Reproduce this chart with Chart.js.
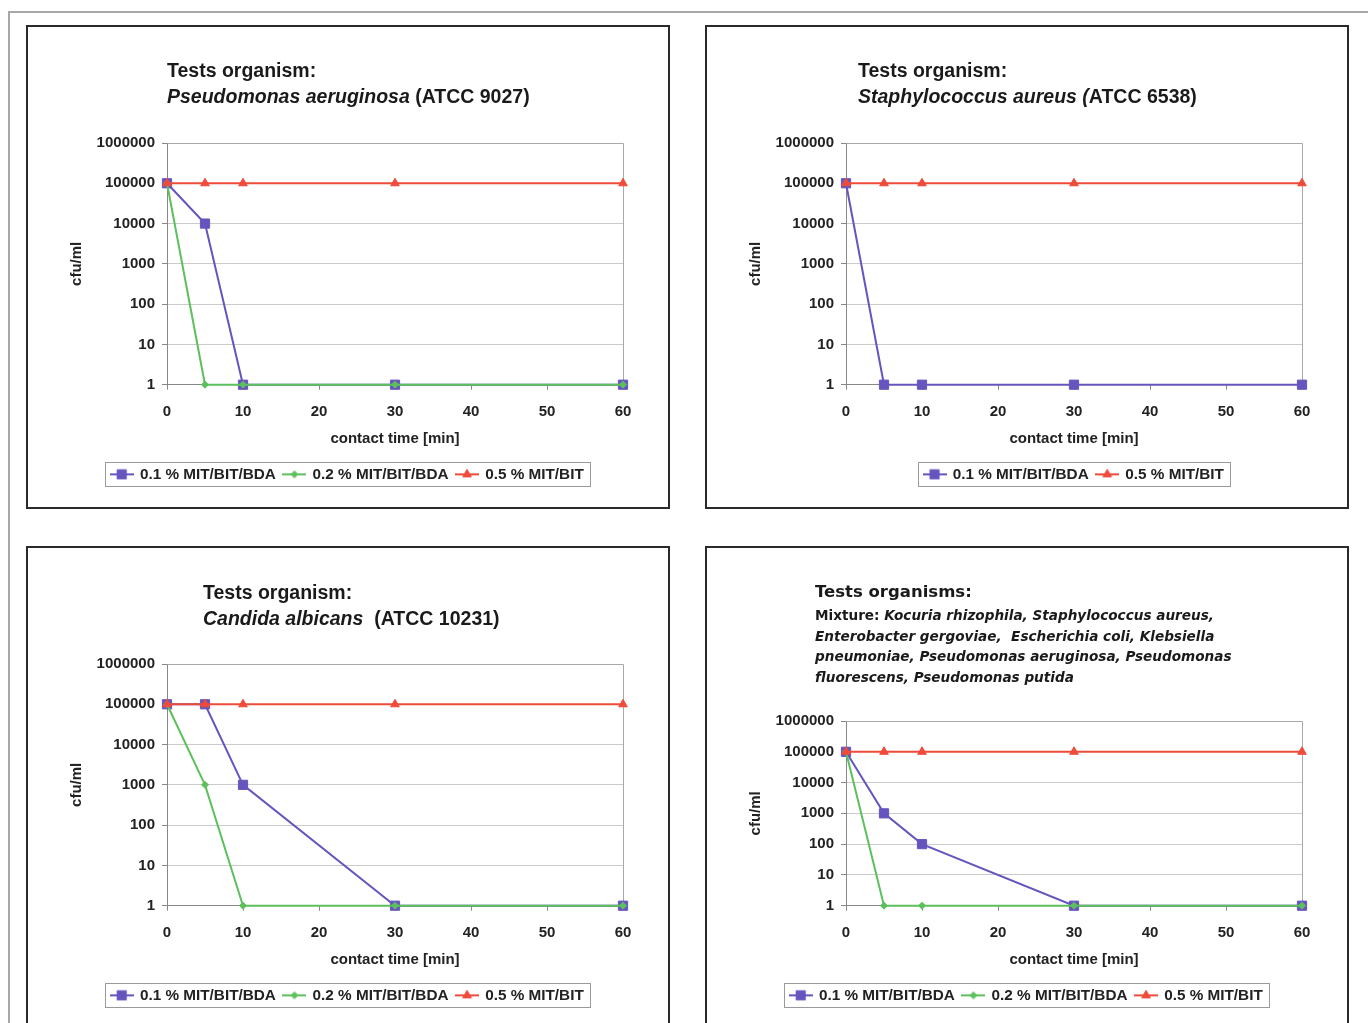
<!DOCTYPE html>
<html>
<head>
<meta charset="utf-8">
<script src="https://cdn.jsdelivr.net/npm/chart.js@4.4.0/dist/chart.umd.min.js"></script>
<style>
html, body { margin: 0; padding: 0; background: #fff; }
body { width: 1368px; height: 1023px; overflow: hidden; position: relative; font-family: "Liberation Sans", Arial, sans-serif; }
#frame { position: absolute; left: 8px; top: 11px; width: 1400px; height: 1100px; border-left: 2px solid #a8a8a8; border-top: 2px solid #a8a8a8; }
.panel { position: absolute; width: 644px; height: 484px; box-sizing: border-box; border: 2px solid #2a2a2a; background: #fff; }
.panel canvas { position: absolute; left: 0; top: 0; }
.ttl { position: absolute; font-size: 19.5px; font-weight: bold; line-height: 26px; color: #1a1a1a; white-space: nowrap; }
.mix { position: absolute; font-family: "DejaVu Sans", sans-serif; font-weight: bold; color: #1a1a1a; white-space: nowrap; }
</style>
</head>
<body>
<div id="frame"></div>

<div class="panel" style="left:26px;top:25px"><canvas id="c1" width="640" height="480"></canvas></div>
<div class="panel" style="left:705px;top:25px"><canvas id="c2" width="640" height="480"></canvas></div>
<div class="panel" style="left:26px;top:546px"><canvas id="c3" width="640" height="480"></canvas></div>
<div class="panel" style="left:705px;top:546px"><canvas id="c4" width="640" height="480"></canvas></div>

<div class="ttl" style="left:167px;top:57px">Tests organism:<br><i>Pseudomonas aeruginosa</i> (ATCC 9027)</div>
<div class="ttl" style="left:858px;top:57px">Tests organism:<br><i>Staphylococcus aureus (</i>ATCC 6538)</div>
<div class="ttl" style="left:203px;top:579px">Tests organism:<br><i>Candida albicans</i>&nbsp; (ATCC 10231)</div>

<div class="mix" style="left:815px;top:580px;font-size:16.5px;line-height:24px">Tests organisms:</div>
<div class="mix" style="left:815px;top:605px;font-size:13.6px;line-height:20.7px">Mixture: <i>Kocuria rhizophila, Staphylococcus aureus,</i><br><i>Enterobacter gergoviae,&nbsp; Escherichia coli, Klebsiella</i><br><i>pneumoniae, Pseudomonas aeruginosa, Pseudomonas</i><br><i>fluorescens, Pseudomonas putida</i></div>

<script>
// contact times [min] and the measured cfu/ml
const times = [0, 5, 10, 30, 60];
const xTicks = [0, 10, 20, 30, 40, 50, 60];
const xTickLabels = ['0', '10', '20', '30', '40', '50', '60'];
const yTicks = [1, 10, 100, 1000, 10000, 100000, 1000000];
const yTickLabels = ['1', '10', '100', '1000', '10000', '100000', '1000000'];
const seriesNames = ['0.1 % MIT/BIT/BDA', '0.2 % MIT/BIT/BDA', '0.5 % MIT/BIT'];

// Pseudomonas aeruginosa
const pseudoBlue = [100000, 10000, 1, 1, 1];
const pseudoGreen = [100000, 1, 1, 1, 1];
const pseudoRed = [100000, 100000, 100000, 100000, 100000];
// Staphylococcus aureus
const staphBlue = [100000, 1, 1, 1, 1];
const staphRed = [100000, 100000, 100000, 100000, 100000];
// Candida albicans
const candidaBlue = [100000, 100000, 1000, 1, 1];
const candidaGreen = [100000, 1000, 1, 1, 1];
const candidaRed = [100000, 100000, 100000, 100000, 100000];
// mixture
const mixBlue = [100000, 1000, 100, 1, 1];
const mixGreen = [100000, 1, 1, 1, 1];
const mixRed = [100000, 100000, 100000, 100000, 100000];

const BLUE = '#6655bf';
const GREEN = '#5cc05c';
const RED = '#ee4b3b';

Chart.defaults.font.family = '"Liberation Sans", Arial, sans-serif';
Chart.defaults.font.size = 15;
Chart.defaults.font.weight = 'bold';
Chart.defaults.color = '#222';

function legendIcon(color, style, radius) {
  var c = document.createElement('canvas');
  c.width = 24;
  c.height = 12;
  var g = c.getContext('2d');
  g.strokeStyle = color;
  g.lineWidth = 2;
  g.beginPath();
  g.moveTo(0, 6);
  g.lineTo(24, 6);
  g.stroke();
  g.fillStyle = color;
  g.lineWidth = 1;
  Chart.helpers.drawPoint(g, {pointStyle: style, radius: radius, borderWidth: 1}, 12, 6);
  return c;
}

const marks = {
  blue: {color: BLUE, style: 'rect', radius: 6.5, order: 3},
  green: {color: GREEN, style: 'rectRot', radius: 3.5, order: 2},
  red: {color: RED, style: 'triangle', radius: 5, order: 1}
};

function series(name, values, m) {
  return {
    label: name,
    data: times.map(function(t, i) { return {x: t, y: values[i]}; }),
    borderColor: m.color,
    backgroundColor: m.color,
    borderWidth: 2,
    pointStyle: m.style,
    pointRadius: m.radius,
    pointBorderWidth: 1,
    order: m.order,
    clip: false,
    icon: legendIcon(m.color, m.style, m.radius)
  };
}

// grey box round the plot area (top and right sides)
const plotFrame = {
  id: 'plotFrame',
  beforeDatasetsDraw: function(chart) {
    var a = chart.chartArea, ctx = chart.ctx;
    ctx.save();
    ctx.strokeStyle = '#a9a9a9';
    ctx.lineWidth = 1;
    ctx.beginPath();
    ctx.moveTo(Math.round(a.left) + 0.5, Math.round(a.top) + 0.5);
    ctx.lineTo(Math.round(a.right) + 0.5, Math.round(a.top) + 0.5);
    ctx.lineTo(Math.round(a.right) + 0.5, Math.round(a.bottom) + 0.5);
    ctx.stroke();
    ctx.restore();
  }
};

// thin box round the legend, like the Excel one
const legendBox = {
  id: 'legendBox',
  afterDraw: function(chart) {
    var hb = chart.legend.legendHitBoxes;
    if (!hb || !hb.length) return;
    var left = hb[0].left - 6;
    var last = hb[hb.length - 1];
    var right = last.left + last.width + 6;
    var top = hb[0].top - 5;
    var h = hb[0].height + 9;
    var ctx = chart.ctx;
    ctx.save();
    ctx.strokeStyle = '#9a9a9a';
    ctx.lineWidth = 1;
    ctx.strokeRect(Math.round(left) + 0.5, Math.round(top) + 0.5, Math.round(right - left), Math.round(h));
    ctx.restore();
  }
};

function makeChart(id, datasets, top, fullLegend) {
  return new Chart(document.getElementById(id), {
    type: 'line',
    data: {datasets: datasets},
    options: {
      responsive: false,
      animation: false,
      devicePixelRatio: 1,
      layout: {padding: {left: 44, right: 45, top: top, bottom: 15}},
      plugins: {
        tooltip: {enabled: false},
        legend: {
          position: 'bottom',
          fullSize: fullLegend,
          labels: {
            usePointStyle: true,
            pointStyleWidth: 21,
            padding: 8,
            color: '#222',
            font: {size: 15.3, weight: 'bold'},
            sort: function(a, b) { return a.datasetIndex - b.datasetIndex; },
            generateLabels: function(chart) {
              var items = Chart.defaults.plugins.legend.labels.generateLabels(chart);
              items.forEach(function(it) { it.pointStyle = chart.data.datasets[it.datasetIndex].icon; });
              return items;
            }
          }
        }
      },
      scales: {
        x: {
          type: 'linear',
          min: 0,
          max: 60,
          afterBuildTicks: function(s) { s.ticks = xTicks.map(function(v) { return {value: v}; }); },
          afterFit: function(s) { s.height = 74; },
          ticks: {
            padding: 13,
            color: '#222',
            callback: function(v) { return xTickLabels[xTicks.indexOf(v)]; }
          },
          grid: {drawOnChartArea: false, tickLength: 5, color: '#888'},
          border: {color: '#888'},
          title: {display: true, text: 'contact time [min]', color: '#222', padding: {top: 0, bottom: 11}}
        },
        y: {
          type: 'logarithmic',
          min: 1,
          max: 1000000,
          afterBuildTicks: function(s) { s.ticks = yTicks.map(function(v) { return {value: v}; }); },
          afterFit: function(s) { s.width = 95; },
          ticks: {
            padding: 7,
            color: '#222',
            callback: function(v) { return yTickLabels[yTicks.indexOf(v)]; }
          },
          grid: {color: '#cbcbcb', tickLength: 5, tickColor: '#888'},
          border: {color: '#888'},
          title: {display: true, text: 'cfu/ml', color: '#222', padding: {top: -4, bottom: 0}}
        }
      }
    },
    plugins: [plotFrame, legendBox]
  });
}

window.onload = function() {
  makeChart('c1', [
    series(seriesNames[0], pseudoBlue, marks.blue),
    series(seriesNames[1], pseudoGreen, marks.green),
    series(seriesNames[2], pseudoRed, marks.red)
  ], 116, true);

  makeChart('c2', [
    series(seriesNames[0], staphBlue, marks.blue),
    series(seriesNames[2], staphRed, marks.red)
  ], 116, false);

  makeChart('c3', [
    series(seriesNames[0], candidaBlue, marks.blue),
    series(seriesNames[1], candidaGreen, marks.green),
    series(seriesNames[2], candidaRed, marks.red)
  ], 116, true);

  makeChart('c4', [
    series(seriesNames[0], mixBlue, marks.blue),
    series(seriesNames[1], mixGreen, marks.green),
    series(seriesNames[2], mixRed, marks.red)
  ], 173, true);
};
</script>
</body>
</html>
